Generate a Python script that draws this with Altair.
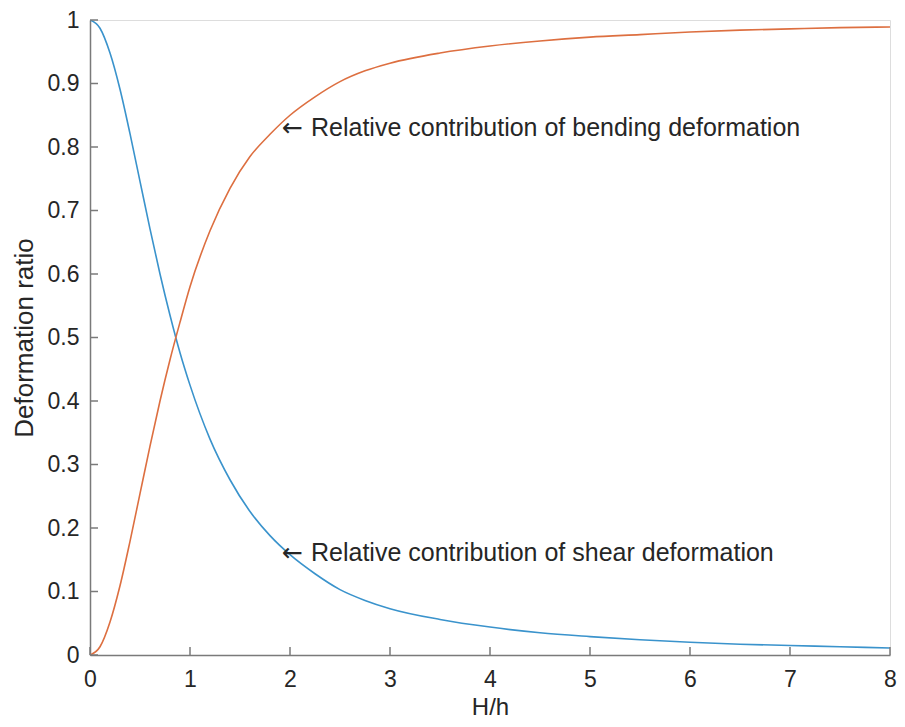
import altair as alt
import pandas as pd

# H/h values and curves
hh = [0, 0.1, 0.2, 0.3, 0.4, 0.5, 0.6, 0.7, 0.8, 0.9, 1.0, 1.2, 1.4, 1.6, 1.8, 2.0,
      2.25, 2.5, 2.75, 3.0, 3.5, 4.0, 4.5, 5.0, 5.5, 6.0, 6.5, 7.0, 7.5, 8.0]
shear = [1.0, 0.987, 0.948, 0.891, 0.821, 0.746, 0.671, 0.600, 0.535, 0.476, 0.425,
         0.340, 0.276, 0.226, 0.188, 0.158, 0.128, 0.103, 0.086, 0.073, 0.056, 0.044,
         0.035, 0.029, 0.024, 0.020, 0.017, 0.015, 0.013, 0.011]
bending = [0.0, 0.013, 0.052, 0.109, 0.179, 0.254, 0.329, 0.400, 0.465, 0.524, 0.580,
           0.668, 0.735, 0.785, 0.820, 0.850, 0.879, 0.903, 0.920, 0.932, 0.948, 0.959,
           0.967, 0.973, 0.977, 0.981, 0.984, 0.986, 0.988, 0.989]

x_ticks = [0, 1, 2, 3, 4, 5, 6, 7, 8]
y_ticks = [0, 0.1, 0.2, 0.3, 0.4, 0.5, 0.6, 0.7, 0.8, 0.9, 1]

arrow_x = [1.92, 1.92]
text_x = [2.21, 2.21]
ann_y = [0.83, 0.16]
ann_text = ["Relative contribution of bending deformation",
            "Relative contribution of shear deformation"]

W, H = 800, 635
FONT = "Liberation Sans"
BLUE = "#3a93cc"
ORANGE = "#dd6f40"
AXIS = "#7a7a7a"
TXT = "#262626"

df = pd.DataFrame({"hh": hh + hh,
                   "val": shear + bending,
                   "series": ["shear"] * len(hh) + ["bending"] * len(hh)})

xs = alt.Scale(domain=[0, 8], nice=False, zero=False)
ys = alt.Scale(domain=[0, 1], nice=False, zero=False)

lines = alt.Chart(df).mark_line(strokeWidth=1.6, clip=True, interpolate="monotone").encode(
    x=alt.X("hh:Q", scale=xs,
            axis=alt.Axis(title="H/h", values=x_ticks, format="~g", tickSize=0,
                          labelPadding=13, labelFontSize=23, titleFontSize=24,
                          titleFontWeight="normal", titlePadding=4,
                          labelFlush=False, labelOverlap=False,
                          labelColor=TXT, titleColor=TXT,
                          domainColor=AXIS, domainWidth=1.5, grid=False,
                          labelFont=FONT, titleFont=FONT)),
    y=alt.Y("val:Q", scale=ys,
            axis=alt.Axis(title="Deformation ratio", values=y_ticks, format="~g",
                          tickSize=0, labelPadding=11, labelFontSize=23,
                          titleFontSize=26, titleFontWeight="normal", titlePadding=10,
                          labelFlush=False, labelOverlap=False,
                          labelColor=TXT, titleColor=TXT,
                          domainColor=AXIS, domainWidth=1.5, grid=False,
                          labelFont=FONT, titleFont=FONT)),
    color=alt.Color("series:N", scale=alt.Scale(domain=["shear", "bending"],
                                                 range=[BLUE, ORANGE]), legend=None),
    detail="series:N",
)

xt = alt.Chart(pd.DataFrame({"t": x_ticks})).mark_rule(color=AXIS, strokeWidth=1.5).encode(
    x=alt.X("t:Q", scale=xs), y=alt.value(H), y2=alt.value(H - 8))
yt = alt.Chart(pd.DataFrame({"t": y_ticks})).mark_rule(color=AXIS, strokeWidth=1.5).encode(
    y=alt.Y("t:Q", scale=ys), x=alt.value(0), x2=alt.value(8))

adf = pd.DataFrame({"ax": arrow_x, "tx": text_x, "y": ann_y, "t": ann_text,
                    "a": ["\u2190", "\u2190"]})
arrows = alt.Chart(adf).mark_text(
    align="left", baseline="middle", fontSize=25, font="DejaVu Sans", color=TXT).encode(
    x=alt.X("ax:Q", scale=xs), y=alt.Y("y:Q", scale=ys), text="a:N")
ann = alt.Chart(adf).mark_text(
    align="left", baseline="middle", fontSize=25, font=FONT, color=TXT).encode(
    x=alt.X("tx:Q", scale=xs), y=alt.Y("y:Q", scale=ys), text="t:N")

chart = alt.layer(lines, xt, yt, arrows, ann).properties(
    width=W, height=H,
    autosize=alt.AutoSizeParams(type="none"),
    padding={"left": 82, "top": 12, "right": 7, "bottom": 64},
).configure_view(stroke=None).configure(background="white")

chart.save("out.html", embed_options={"renderer": "svg", "actions": False})
